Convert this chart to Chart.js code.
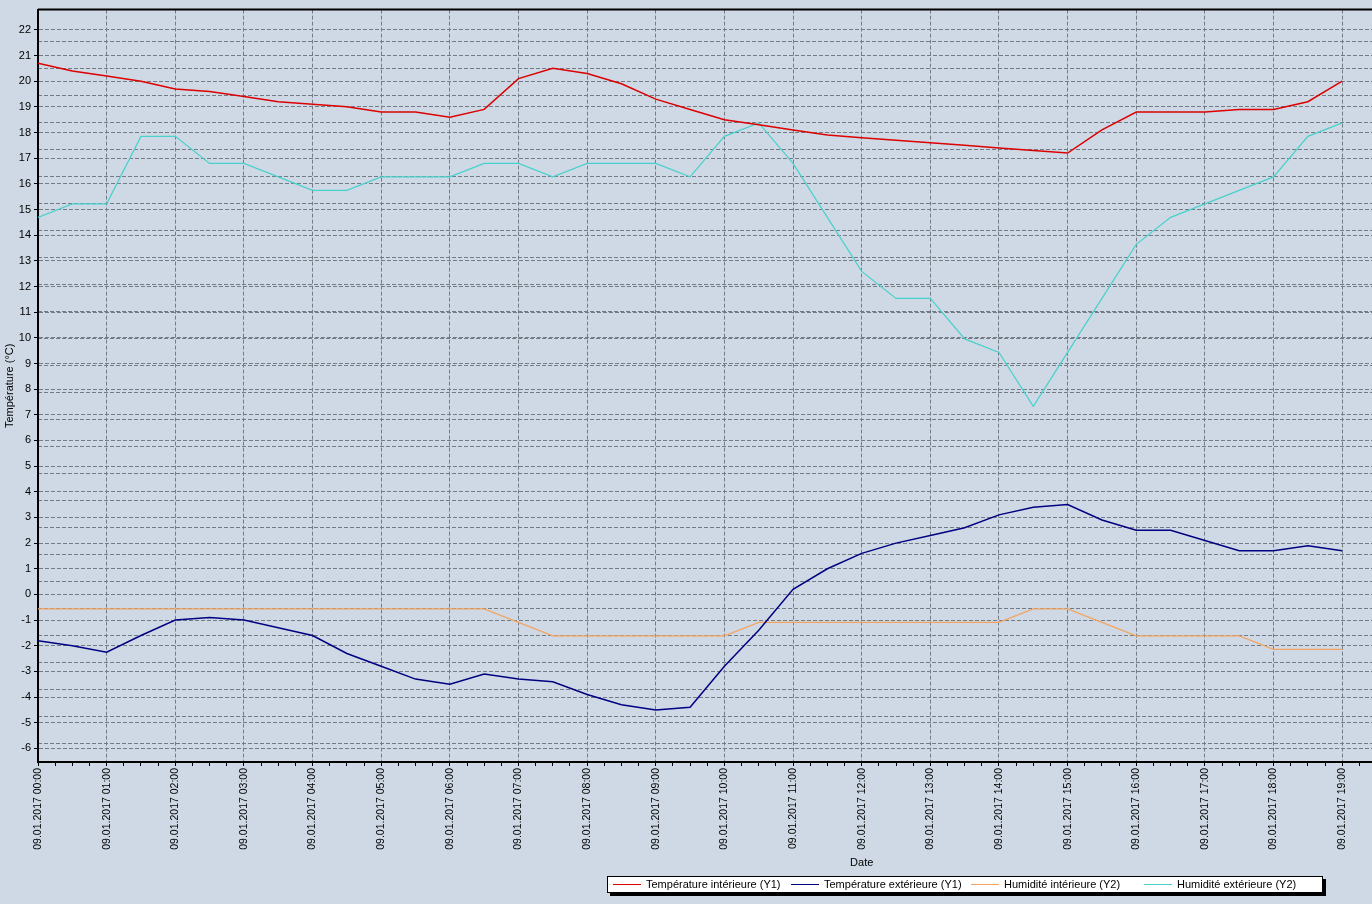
<!DOCTYPE html>
<html>
<head>
<meta charset="utf-8">
<title>Températures et humidité</title>
<script src="https://cdn.jsdelivr.net/npm/chart.js@4.4.1/dist/chart.umd.min.js"></script>
<style>
  html, body { margin: 0; padding: 0; overflow: hidden; background: #CED9E5; }
  .chart-wrap { position: relative; width: 1700px; height: 904px; }
  .chart-legend {
    position: absolute; left: 607px; top: 876px; width: 714px; height: 15px;
    background: #fff; border: 1px solid #000; box-shadow: 3px 3px 0 #000;
    font: 11px "Liberation Sans", Arial, sans-serif; color: #000;
  }
  .chart-legend .inner-item { position: absolute; top: 0; line-height: 15px; white-space: nowrap; }
  .chart-legend .inner-line {
    display: inline-block; width: 28px; height: 0; vertical-align: middle;
    margin: -1px 5px 0 0; border-top: 1px solid;
  }
</style>
</head>
<body>
<div class="chart-wrap">
  <canvas id="weather-chart" width="1700" height="904"></canvas>
  <div class="chart-legend"></div>
</div>
<script>
// Data
const dateLabel = "09.01.2017";
const times = [
  "00:00", "00:30", "01:00", "01:30", "02:00", "02:30", "03:00", "03:30",
  "04:00", "04:30", "05:00", "05:30", "06:00", "06:30", "07:00", "07:30",
  "08:00", "08:30", "09:00", "09:30", "10:00", "10:30", "11:00", "11:30",
  "12:00", "12:30", "13:00", "13:30", "14:00", "14:30", "15:00", "15:30",
  "16:00", "16:30", "17:00", "17:30", "18:00", "18:30", "19:00",
];
const tempInterieure = [
  20.7, 20.4, 20.2, 20.0, 19.7, 19.6, 19.4, 19.2, 19.1, 19.0, 18.8, 18.8, 18.6,
  18.9, 20.1, 20.5, 20.3, 19.9, 19.3, 18.9, 18.5, 18.3, 18.1, 17.9, 17.8, 17.7,
  17.6, 17.5, 17.4, 17.3, 17.2, 18.1, 18.8, 18.8, 18.8, 18.9, 18.9, 19.2, 20.0,
];
const tempExterieure = [
  -1.8, -2.0, -2.25, -1.6, -1.0, -0.9, -1.0, -1.3, -1.6, -2.3, -2.8, -3.3, -3.5,
  -3.1, -3.3, -3.4, -3.9, -4.3, -4.5, -4.4, -2.8, -1.4, 0.2, 1.0, 1.6, 2.0,
  2.3, 2.6, 3.1, 3.4, 3.5, 2.9, 2.5, 2.5, 2.1, 1.7, 1.7, 1.9, 1.7,
];
const humInterieure = [
  56, 56, 56, 56, 56, 56, 56, 56, 56, 56, 56, 56, 56, 56, 55, 54, 54, 54, 54,
  54, 54, 55, 55, 55, 55, 55, 55, 55, 55, 56, 56, 55, 54, 54, 54, 54, 53, 53, 53,
];
const humExterieure = [
  85, 86, 86, 91, 91, 89, 89, 88, 87, 87, 88, 88, 88, 89, 89, 88, 89, 89, 89,
  88, 91, 92, 89, 85, 81, 79, 79, 76, 75, 71, 75, 79, 83, 85, 86, 87, 88, 91, 92,
];
// End Data

const hours = times.map((t) => {
  const [h, m] = t.split(":").map(Number);
  return h + m / 60;
});
const toPoints = (values) => values.map((v, i) => ({ x: hours[i], y: v }));

const fontFamily = '"Liberation Sans", Arial, sans-serif';
const gridColor = "#737B85";
const gridDash = [4, 2];
const keepWhole = (step) => (scale) => {
  scale.ticks = scale.ticks.filter((t) => Number.isInteger(t.value) && t.value % step === 0);
};

// Top frame line
const topBorder = {
  id: "topBorder",
  afterDraw(chart) {
    const { ctx, chartArea } = chart;
    ctx.save();
    ctx.strokeStyle = "#000";
    ctx.lineWidth = 2;
    ctx.beginPath();
    ctx.moveTo(chartArea.left, chartArea.top);
    ctx.lineTo(chartArea.right, chartArea.top);
    ctx.stroke();
    ctx.restore();
  },
};

// Weather Chart
const weatherChart = document.querySelector("#weather-chart");
if (weatherChart) {
  const chart = new Chart(weatherChart, {
    type: "line",
    data: {
      datasets: [
        {
          label: "Température intérieure (Y1)",
          data: toPoints(tempInterieure),
          borderColor: "#DD0000",
          borderWidth: 1.5,
          yAxisID: "y",
        },
        {
          label: "Température extérieure (Y1)",
          data: toPoints(tempExterieure),
          borderColor: "#000080",
          borderWidth: 1.5,
          yAxisID: "y",
        },
        {
          label: "Humidité intérieure (Y2)",
          data: toPoints(humInterieure),
          borderColor: "#F4A460",
          borderWidth: 1.2,
          yAxisID: "y2",
        },
        {
          label: "Humidité extérieure (Y2)",
          data: toPoints(humExterieure),
          borderColor: "#48D1CC",
          borderWidth: 1.2,
          yAxisID: "y2",
        },
      ],
    },
    options: {
      responsive: false,
      animation: false,
      events: [],
      layout: { padding: { top: 8, right: 6, bottom: 0, left: 0 } },
      elements: { point: { radius: 0 }, line: { tension: 0 } },
      plugins: {
        legend: { display: false },
        tooltip: { enabled: false },
      },
      scales: {
        x: {
          type: "linear",
          min: 0,
          max: 24,
          afterFit: (scale) => { scale.height = 142; },
          border: { color: "#000", width: 2, dash: gridDash },
          grid: {
            color: (ctx) => (ctx.tick && Number.isInteger(ctx.tick.value) ? gridColor : "transparent"),
            tickColor: "#000",
            tickBorderDash: [],
            tickLength: 4,
          },
          ticks: {
            stepSize: 0.25,
            autoSkip: false,
            minRotation: 90,
            maxRotation: 90,
            padding: 2,
            color: "#000",
            font: { family: fontFamily, size: 10.5 },
            callback: (value) =>
              Number.isInteger(value) ? `${dateLabel} ${String(value).padStart(2, "0")}:00` : "",
          },
          title: {
            display: true,
            text: "Date",
            color: "#000",
            font: { family: fontFamily, size: 11 },
            padding: { top: 0, bottom: 34 },
          },
        },
        y: {
          position: "left",
          min: -6.53,
          max: 22.79,
          afterBuildTicks: keepWhole(1),
          afterFit: (scale) => { scale.width = 38; },
          border: { color: "#000", width: 2, dash: gridDash },
          grid: {
            color: gridColor,
            tickColor: "#000",
            tickBorderDash: [],
            tickLength: 4,
          },
          ticks: {
            stepSize: 1,
            padding: 3,
            color: "#000",
            font: { family: fontFamily, size: 11 },
          },
          title: {
            display: true,
            text: "Température (°C)",
            color: "#000",
            font: { family: fontFamily, size: 11 },
            padding: { top: 3, bottom: 0 },
          },
        },
        y2: {
          position: "right",
          min: 44.66,
          max: 100.39,
          afterBuildTicks: keepWhole(2),
          afterFit: (scale) => { scale.width = 0; },
          border: { display: false, dash: gridDash },
          grid: {
            color: gridColor,
            drawTicks: false,
          },
          ticks: { stepSize: 2, display: false },
        },
      },
    },
    plugins: [topBorder],
  });

  // Legend
  const legendLeft = [5, 183, 363, 536];
  const legendBox = document.querySelector(".chart-legend");
  chart.data.datasets.forEach((ds, i) => {
    const item = document.createElement("div");
    item.className = "inner-item";
    item.style.left = legendLeft[i] + "px";
    item.innerHTML = `<span class="inner-line" style="border-color:${ds.borderColor}"></span>${ds.label}`;
    legendBox.appendChild(item);
  });
}
// End Weather Chart
</script>
</body>
</html>
